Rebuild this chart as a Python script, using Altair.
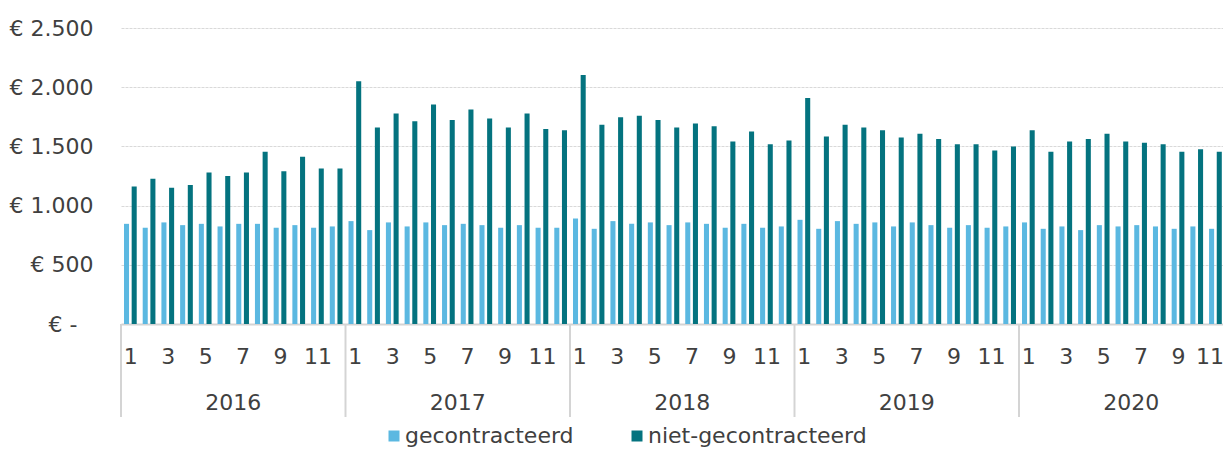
import altair as alt
import pandas as pd

YEARS = [2016, 2017, 2018, 2019, 2020]
MONTH_TICKS = [1, 3, 5, 7, 9, 11]
SERIES = ["gecontracteerd", "niet-gecontracteerd"]
COLORS = ["#5bb8e1", "#04737f"]

GECONTRACTEERD = [
    846, 813, 858, 835, 846, 824, 846, 846, 813, 835, 813, 824,   # 2016
    869, 793, 858, 824, 858, 835, 846, 835, 813, 835, 813, 813,   # 2017
    891, 804, 869, 846, 858, 835, 858, 846, 813, 846, 813, 824,   # 2018
    880, 804, 869, 846, 858, 824, 858, 835, 813, 835, 813, 824,   # 2019
    858, 804, 824, 793, 835, 824, 835, 824, 804, 824, 804, 813,   # 2020
]
NIET_GECONTRACTEERD = [
    1161, 1226, 1150, 1173, 1279, 1249, 1279, 1454, 1291, 1412, 1313, 1313,  # 2016
    2050, 1659, 1777, 1713, 1853, 1724, 1811, 1735, 1659, 1777, 1648, 1637,  # 2017
    2103, 1682, 1746, 1758, 1724, 1659, 1693, 1670, 1541, 1625, 1518, 1549,  # 2018
    1909, 1583, 1682, 1659, 1637, 1575, 1606, 1563, 1518, 1518, 1465, 1499,  # 2019
    1637, 1454, 1541, 1563, 1606, 1541, 1530, 1518, 1454, 1476, 1454,        # 2020 (dec not visible)
]

rows = []
for serie, vals in zip(SERIES, [GECONTRACTEERD, NIET_GECONTRACTEERD]):
    for i, v in enumerate(vals):
        rows.append({"t": i, "jaar": YEARS[i // 12], "maand": i % 12 + 1,
                     "serie": serie, "waarde": v})
df = pd.DataFrame(rows)

years_df = pd.DataFrame({"jaar": [str(y) for y in YEARS],
                         "mid": [i * 12 + 6 for i in range(len(YEARS))]})
seps_df = pd.DataFrame({"grens": [i * 12 for i in range(len(YEARS) + 1)]})

FONT = "DejaVu Sans"
TXT = "#404040"
MONTH_PX = 224.5 / 12
W = 1102
H = 296

x_scale = alt.Scale(domain=[0, W / MONTH_PX], nice=False, zero=False)
y_scale = alt.Scale(domain=[0, 2500], nice=False)

tick_vals = [yi * 12 + (m - 1) + 0.5 for yi in range(len(YEARS)) for m in MONTH_TICKS]

x_axis = alt.Axis(values=tick_vals,
                  labelExpr="format(round((datum.value - 0.5) % 12) + 1, 'd')",
                  domain=True, domainColor="#d4d4d4", domainWidth=2,
                  ticks=False, tickSize=0, grid=False,
                  labelBaseline="alphabetic", labelPadding=39,
                  labelOffset=alt.condition("datum.value > 58", alt.value(-6), alt.value(0)),
                  labelFont=FONT, labelFontSize=22, labelColor=TXT,
                  labelOverlap=False, labelFlush=False)

bars = alt.Chart(df).transform_calculate(
    x0="datum.t + (datum.serie == 'gecontracteerd' ? 0.16 : 0.57)",
    x1="datum.t + (datum.serie == 'gecontracteerd' ? 0.43 : 0.84)",
).mark_bar().encode(
    x=alt.X("x0:Q", scale=x_scale, title=None, axis=x_axis),
    x2="x1:Q",
    y=alt.Y("waarde:Q", scale=y_scale, title=None,
            axis=alt.Axis(values=[0, 500, 1000, 1500, 2000, 2500],
                          labelExpr="datum.value == 0 ? '€ -' : '€ ' + replace(format(datum.value, ','), ',', '.')",
                          domain=False, ticks=False, tickSize=0,
                          labelPadding=alt.condition("datum.value == 0", alt.value(44), alt.value(28)),
                          labelFont=FONT, labelFontSize=22, labelColor=TXT,
                          grid=True, gridColor="#d9d9d9", gridDash=[3, 1], gridWidth=1)),
    y2=alt.datum(0),
    color=alt.Color("serie:N", scale=alt.Scale(domain=SERIES, range=COLORS),
                    legend=alt.Legend(orient="none", legendX=262, legendY=397,
                                      direction="horizontal", title=None,
                                      symbolType="square", symbolSize=121,
                                      symbolStrokeWidth=0,
                                      labelFont=FONT, labelFontSize=22,
                                      labelColor=TXT, labelOffset=0,
                                      columnPadding=52, labelLimit=400)),
)

seps = alt.Chart(seps_df).mark_rule(color="#d4d4d4", strokeWidth=2).encode(
    x=alt.X("grens:Q", scale=x_scale, title=None, axis=x_axis),
    y=alt.value(H),
    y2=alt.value(H + 93),
)

year_labels = alt.Chart(years_df).mark_text(
    font=FONT, fontSize=22, color=TXT, baseline="alphabetic", align="center"
).encode(
    x=alt.X("mid:Q", scale=x_scale, title=None, axis=x_axis),
    y=alt.value(H + 86),
    text="jaar:N",
)

chart = alt.layer(bars, seps, year_labels).properties(
    width=W, height=H,
    autosize=alt.AutoSizeParams(type="none"),
    padding={"left": 113, "top": 20, "right": 0, "bottom": 126},
).configure_view(stroke=None)

chart.save("out.html", embed_options={"renderer": "svg", "actions": False})
